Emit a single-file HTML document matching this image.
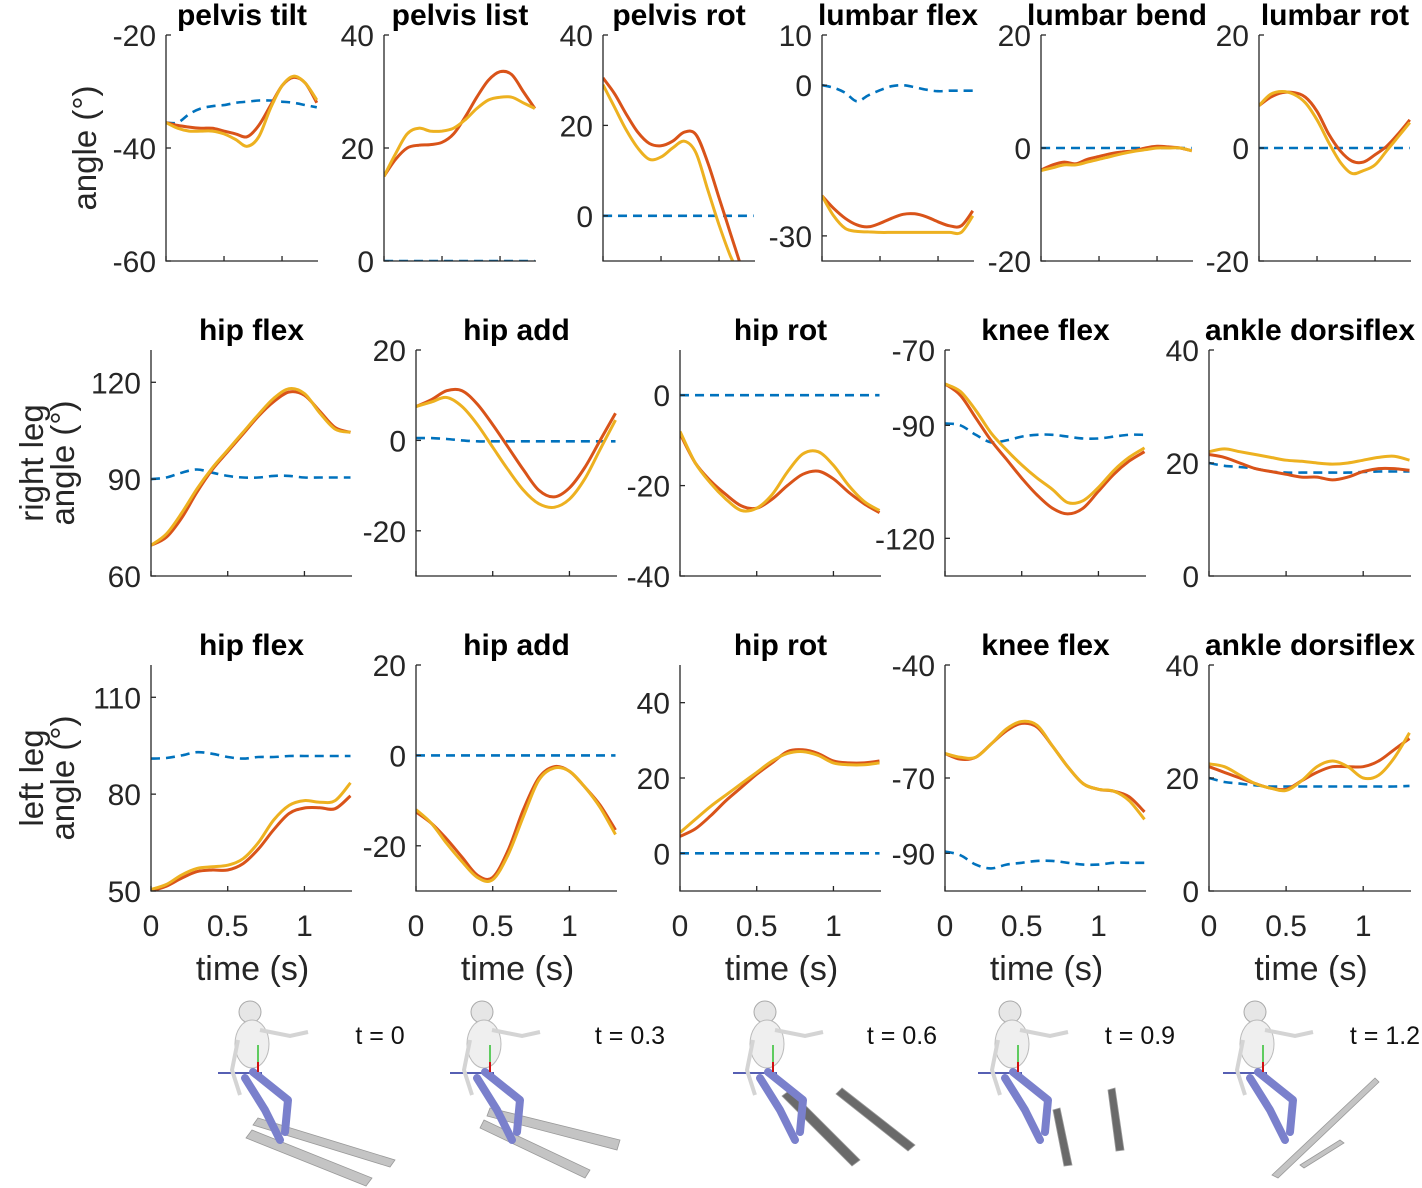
<!DOCTYPE html>
<html><head><meta charset="utf-8"><style>
body{margin:0;background:#fff}
svg{display:block;font-family:"Liberation Sans",Arial,sans-serif}
</style></head><body>
<svg id="fig" width="1422" height="1188" viewBox="0 0 1422 1188" xmlns="http://www.w3.org/2000/svg"></svg>
<script>
// ---- data ----
const time = [0,0.1,0.2,0.3,0.4,0.5,0.6,0.7,0.8,0.9,1.0,1.1,1.2,1.3];
const xTicks = [0,0.5,1];
const xTickLabels = ['0','0.5','1'];

const pelvisTiltRef = [-35.5,-35.5,-34,-33,-32.6,-32.4,-32,-31.8,-31.6,-31.6,-31.8,-32,-32.4,-32.8];
const pelvisTiltA = [-35.5,-36,-36.3,-36.5,-36.5,-37,-37.5,-38,-36,-32.5,-29,-27.5,-28.5,-32];
const pelvisTiltB = [-35.5,-36.5,-37,-37,-37,-37.5,-38.5,-39.7,-38,-33,-29,-27.3,-28.5,-31.5];

const pelvisListRef = [0,0,0,0,0,0,0,0,0,0,0,0,0,0];
const pelvisListA = [15,18,20,20.5,20.6,21,22.5,25.5,29,32,33.5,33,30,27];
const pelvisListB = [15,19,22.5,23.5,23,23,23.5,25,27,28.5,29,29,28,27];

const pelvisRotRef = [0,0,0,0,0,0,0,0,0,0,0,0,0,0];
const pelvisRotA = [30.5,27,22.5,18.5,16,15.5,16.5,18.5,18,12,4,-4,-12,-20];
const pelvisRotB = [29,24,19,15,12.5,13,15,16.5,14,6,-2,-9,-14,-20];

const lumbarFlexRef = [0,-0.5,-1.5,-3.2,-2,-1,-0.2,0,-0.4,-0.9,-1.2,-1.1,-1.1,-1.1];
const lumbarFlexA = [-22,-24.5,-26.5,-27.8,-28.2,-27.5,-26.5,-25.7,-25.6,-26.2,-27.2,-28,-28,-25];
const lumbarFlexB = [-22,-26,-28.5,-29.1,-29.2,-29.3,-29.3,-29.3,-29.3,-29.3,-29.3,-29.3,-29.3,-26];

const lumbarBendRef = [0,0,0,0,0,0,0,0,0,0,0,0,0,0];
const lumbarBendA = [-3.9,-3,-2.5,-2.8,-2,-1.5,-1,-0.7,-0.5,0,0.3,0.2,0,-0.5];
const lumbarBendB = [-4,-3.5,-3,-3,-2.5,-2,-1.5,-1,-0.6,-0.3,0,0,0,-0.5];

const lumbarRotRef = [0,0,0,0,0,0,0,0,0,0,0,0,0,0];
const lumbarRotA = [7.5,9,9.8,9.8,9,6.5,2.5,-0.5,-2.3,-2.5,-1.2,0.3,2.5,5];
const lumbarRotB = [7.5,9.5,10,9.5,8,5,1,-2.5,-4.5,-4,-3,-0.5,2,4.5];

const rHipFlexRef = [90,90.5,92,93,92,91,90.5,90.5,91,91,90.5,90.5,90.5,90.5];
const rHipFlexA = [69.5,72,78,86,93,98.5,104,109.5,114,117,116,111,106,104.5];
const rHipFlexB = [69.5,73,79.5,87,93.5,99,104.5,110,115,118,116.5,110.5,105.5,104.5];

const rHipAddRef = [0.5,0.5,0.3,0,-0.2,-0.2,-0.2,-0.2,-0.2,-0.2,-0.2,-0.2,-0.2,-0.2];
const rHipAddA = [7.5,9,11,11,8,3.5,-1.5,-6.5,-11,-12.5,-10.5,-6,0,6];
const rHipAddB = [7.5,8.5,9.5,7.5,3.5,-1.5,-6.5,-11,-14,-14.8,-13,-8.5,-2,4.5];

const rHipRotRef = [0,0,0,0,0,0,0,0,0,0,0,0,0,0];
const rHipRotA = [-8.5,-15,-19,-22,-24.5,-25,-23,-20,-17.5,-16.8,-18.5,-21.5,-24,-26];
const rHipRotB = [-8,-15,-19.5,-23,-25.5,-25,-22,-17,-13,-12.5,-15.5,-20,-23.5,-25.5];

const rKneeRef = [-89.5,-90,-92.5,-94.5,-94,-93,-92.5,-92.5,-93,-93.5,-93.5,-93,-92.5,-92.5];
const rKneeA = [-79,-82,-88,-94,-99,-104,-108.5,-112,-113.5,-112,-107.5,-103,-99.5,-97];
const rKneeB = [-79,-81,-86,-92,-96.5,-100.5,-104,-107,-110.5,-110,-106.5,-102,-98.5,-96];

const rAnkleRef = [20,19.5,19.3,19,18.5,18.3,18.3,18.3,18.3,18.3,18.4,18.5,18.5,18.5];
const rAnkleA = [21.5,21,20,19,18.5,18,17.5,17.5,17,17.5,18.5,19,19,18.7];
const rAnkleB = [22,22.5,22,21.5,21,20.5,20.3,20,19.8,20,20.5,21,21.2,20.5];

const lHipFlexRef = [91,91.2,92,93,92.5,91.5,91,91.5,91.5,91.8,91.8,91.8,91.8,91.8];
const lHipFlexA = [50,51.5,54,56,56.5,56.5,58.5,63,69,74,75.7,75.8,75.5,79.5];
const lHipFlexB = [50.5,52,55,57,57.5,58,60,65,72,76.5,78,77.5,78,83.5];

const lHipAddRef = [0,0,0,0,0,0,0,0,0,0,0,0,0,0];
const lHipAddA = [-12.5,-15,-18.5,-22.5,-26.5,-27,-21,-12,-5,-2.5,-3.5,-7,-11,-16.5];
const lHipAddB = [-12,-15,-19.5,-23.5,-27,-27.5,-22,-13.5,-5.5,-2.8,-3.5,-7,-11.5,-17.5];

const lHipRotRef = [0,0,0,0,0,0,0,0,0,0,0,0,0,0];
const lHipRotA = [4.5,6.5,10,14,17.5,21,24,27,27.5,26.5,24.5,24,24,24.5];
const lHipRotB = [5.5,9,12.5,15.5,18.5,21.5,24.5,26.5,27,26,24,23.5,23.5,24];

const lKneeRef = [-89.5,-90.5,-93,-94,-93,-92.5,-92,-92,-92.5,-93,-93,-92.5,-92.5,-92.5];
const lKneeA = [-63.5,-65,-64.5,-61,-57.5,-55.5,-56.5,-61.5,-67,-71.5,-73,-73.5,-75,-79];
const lKneeB = [-63.5,-64.5,-64.5,-61,-57,-55,-56,-61.5,-67,-71.5,-73,-73.5,-76,-81];

const lAnkleRef = [20,19.3,19,18.7,18.5,18.5,18.5,18.5,18.5,18.5,18.5,18.5,18.5,18.6];
const lAnkleA = [22,21,20,19,18.2,18,19.5,21,22,22,22,23,25,27];
const lAnkleB = [22.5,22,20.5,19,18.2,17.8,19.5,22,23,22,20,20.5,23.5,28];

// ---- layout ----
const NS='http://www.w3.org/2000/svg';
const svg=document.getElementById('fig');
function mk(tag,attrs,parent){const e=document.createElementNS(NS,tag);for(const k in attrs)e.setAttribute(k,attrs[k]);(parent||svg).appendChild(e);return e;}
const XMAX=1.31;
const C_REF='#0072BD',C_A='#D95319',C_B='#EDB120';

const panels=[
 {name:'pelvis-tilt',title:'pelvis tilt',x0:166,w:152,y0:35,h:226,ymin:-60,ymax:-20,yt:[-20,-40,-60],ref:pelvisTiltRef,a:pelvisTiltA,b:pelvisTiltB},
 {name:'pelvis-list',title:'pelvis list',x0:384,w:152,y0:35,h:226,ymin:0,ymax:40,yt:[40,20,0],ref:pelvisListRef,a:pelvisListA,b:pelvisListB},
 {name:'pelvis-rot',title:'pelvis rot',x0:603,w:152,y0:35,h:226,ymin:-10,ymax:40,yt:[40,20,0],ref:pelvisRotRef,a:pelvisRotA,b:pelvisRotB},
 {name:'lumbar-flex',title:'lumbar flex',x0:822,w:152,y0:35,h:226,ymin:-35,ymax:10,yt:[10,0,-30],ref:lumbarFlexRef,a:lumbarFlexA,b:lumbarFlexB},
 {name:'lumbar-bend',title:'lumbar bend',x0:1041,w:152,y0:35,h:226,ymin:-20,ymax:20,yt:[20,0,-20],ref:lumbarBendRef,a:lumbarBendA,b:lumbarBendB},
 {name:'lumbar-rot',title:'lumbar rot',x0:1259,w:152,y0:35,h:226,ymin:-20,ymax:20,yt:[20,0,-20],ref:lumbarRotRef,a:lumbarRotA,b:lumbarRotB},
 {name:'right-hip-flex',title:'hip flex',x0:151,w:201,y0:350,h:226,ymin:60,ymax:130,yt:[120,90,60],ref:rHipFlexRef,a:rHipFlexA,b:rHipFlexB},
 {name:'right-hip-add',title:'hip add',x0:416,w:201,y0:350,h:226,ymin:-30,ymax:20,yt:[20,0,-20],ref:rHipAddRef,a:rHipAddA,b:rHipAddB},
 {name:'right-hip-rot',title:'hip rot',x0:680,w:201,y0:350,h:226,ymin:-40,ymax:10,yt:[0,-20,-40],ref:rHipRotRef,a:rHipRotA,b:rHipRotB},
 {name:'right-knee-flex',title:'knee flex',x0:945,w:201,y0:350,h:226,ymin:-130,ymax:-70,yt:[-70,-90,-120],ref:rKneeRef,a:rKneeA,b:rKneeB},
 {name:'right-ankle',title:'ankle dorsiflex',x0:1209,w:202,y0:350,h:226,ymin:0,ymax:40,yt:[40,20,0],ref:rAnkleRef,a:rAnkleA,b:rAnkleB},
 {name:'left-hip-flex',title:'hip flex',x0:151,w:201,y0:665,h:226,ymin:50,ymax:120,yt:[110,80,50],ref:lHipFlexRef,a:lHipFlexA,b:lHipFlexB,xl:1},
 {name:'left-hip-add',title:'hip add',x0:416,w:201,y0:665,h:226,ymin:-30,ymax:20,yt:[20,0,-20],ref:lHipAddRef,a:lHipAddA,b:lHipAddB,xl:1},
 {name:'left-hip-rot',title:'hip rot',x0:680,w:201,y0:665,h:226,ymin:-10,ymax:50,yt:[40,20,0],ref:lHipRotRef,a:lHipRotA,b:lHipRotB,xl:1},
 {name:'left-knee-flex',title:'knee flex',x0:945,w:201,y0:665,h:226,ymin:-100,ymax:-40,yt:[-40,-70,-90],ref:lKneeRef,a:lKneeA,b:lKneeB,xl:1},
 {name:'left-ankle',title:'ankle dorsiflex',x0:1209,w:202,y0:665,h:226,ymin:0,ymax:40,yt:[40,20,0],ref:lAnkleRef,a:lAnkleA,b:lAnkleB,xl:1}
];

function smoothPath(pts){
  let d='M'+pts[0][0].toFixed(1)+','+pts[0][1].toFixed(1);
  for(let i=0;i<pts.length-1;i++){
    const p0=pts[Math.max(0,i-1)],p1=pts[i],p2=pts[i+1],p3=pts[Math.min(pts.length-1,i+2)];
    const c1=[p1[0]+(p2[0]-p0[0])/6,p1[1]+(p2[1]-p0[1])/6];
    const c2=[p2[0]-(p3[0]-p1[0])/6,p2[1]-(p3[1]-p1[1])/6];
    d+=' C'+c1[0].toFixed(1)+','+c1[1].toFixed(1)+' '+c2[0].toFixed(1)+','+c2[1].toFixed(1)+' '+p2[0].toFixed(1)+','+p2[1].toFixed(1);
  }
  return d;
}

const defs=mk('defs',{});
panels.forEach((p,idx)=>{
  const g=mk('g',{});
  
  
  const sx=t=>p.x0+t/XMAX*p.w;
  const sy=v=>p.y0+(p.ymax-v)/(p.ymax-p.ymin)*p.h;
  const cp=mk('clipPath',{id:'c'+idx},defs);
  mk('rect',{x:p.x0,y:p.y0,width:p.w,height:p.h},cp);
  const series=[[p.ref,C_REF,'reference'],[p.a,C_A,'series-a'],[p.b,C_B,'series-b']];
  const lg=mk('g',{'clip-path':'url(#c'+idx+')'},g);
  series.forEach(s=>{
    const pts=time.map((t,i)=>[sx(t),sy(s[0][i])]);
    const path=mk('path',{d:smoothPath(pts),fill:'none',stroke:s[1],'stroke-width':s[2]==='reference'?2.6:3,'stroke-dasharray':s[2]==='reference'?'9 6':'none','stroke-linejoin':'round'},lg);
    
    
  });
  const ax=mk('path',{d:`M${p.x0},${p.y0} V${p.y0+p.h} H${p.x0+p.w}`,fill:'none',stroke:'#262626','stroke-width':1.3},g);
  
  
  p.yt.forEach(v=>{
    const y=sy(v);
    mk('line',{x1:p.x0,x2:p.x0+5,y1:y,y2:y,stroke:'#262626','stroke-width':1.3},g);
    const tx=mk('text',{x:p.x0-10,y:y+11,'text-anchor':'end','font-size':30,fill:'#262626'},g);
    tx.textContent=String(v);
    
    
  });
  xTicks.forEach((t,i)=>{
    const x=sx(t);
    mk('line',{x1:x,x2:x,y1:p.y0+p.h,y2:p.y0+p.h-5,stroke:'#262626','stroke-width':1.3},g);
    if(p.xl){
      const tx=mk('text',{x:x,y:p.y0+p.h+45,'text-anchor':'middle','font-size':30,fill:'#262626'},g);
      tx.textContent=xTickLabels[i];
      
      
    }
  });
  if(p.xl){
    const xt=mk('text',{x:p.x0+p.w*0.5+1,y:p.y0+p.h+89,'text-anchor':'middle','font-size':34,fill:'#262626'},g);
    xt.textContent='time (s)';
    
    
  }
  const ti=mk('text',{x:p.x0+p.w/2,y:p.y0-10,'text-anchor':'middle','font-size':30,'font-weight':'bold',fill:'#000'},g);
  ti.textContent=p.title;
  
  
});

function ylab(lines,cx,cy,name){
  const t=mk('text',{transform:`translate(${cx},${cy}) rotate(-90)`,'text-anchor':'middle','font-size':33,fill:'#262626'});
  
  
  lines.forEach((l,i)=>{const ts=mk('tspan',{x:0,dy:i===0?0:31},t);ts.textContent=l;});
}
ylab(['angle (°)'],96,148,'pelvis-lumbar-y-axis-title');
ylab(['right leg','angle (°)'],43,463,'right-leg-y-axis-title');
ylab(['left leg','angle (°)'],43,778,'left-leg-y-axis-title');

// skier snapshots
const snapLabels=['t = 0','t = 0.3','t = 0.6','t = 0.9','t = 1.2'];
const snapX=[250,482,765,1010,1255];
const labelX=[380,630,902,1140,1385];
const skis=[
 [[258,1118,395,1160,390,1167,253,1125],[252,1130,372,1178,366,1186,246,1138]],
 [[490,1108,620,1140,617,1150,487,1116],[484,1120,590,1170,585,1178,480,1128]],
 [[790,1090,860,1160,852,1166,782,1096],[842,1088,915,1145,908,1151,836,1094]],
 [[1060,1108,1072,1165,1064,1166,1053,1110],[1115,1088,1124,1150,1116,1151,1108,1090]],
 [[1272,1175,1375,1078,1379,1082,1278,1178],[1300,1165,1340,1140,1344,1143,1304,1168]]
];
snapX.forEach((sx,i)=>{
  const g=mk('g',{});
  
  
  skis[i].forEach(s=>{
    mk('polygon',{points:s.join(' '),fill:i===2||i===3?'#6a6a6a':'#c4c4c4',stroke:'#999','stroke-width':0.8},g);
  });
  const o=sx;
  mk('line',{x1:o-32,y1:1073,x2:o+12,y2:1073,stroke:'#1f2a9a','stroke-width':1.5},g);
  mk('circle',{cx:o,cy:1012,r:11,fill:'#e6e6e6',stroke:'#aaa'},g);
  mk('ellipse',{cx:o+2,cy:1044,rx:17,ry:24,fill:'#efefef',stroke:'#bbb','stroke-width':1},g);
  mk('path',{d:`M${o+10},1030 L${o+40},1036 L${o+58},1032`,fill:'none',stroke:'#d4d4d4','stroke-width':4},g);
  mk('path',{d:`M${o-12},1040 L${o-18},1070 L${o-10},1095`,fill:'none',stroke:'#d4d4d4','stroke-width':4},g);
  mk('path',{d:`M${o+3},1072 L${o+38},1100 L${o+35},1132 M${o-5},1078 L${o+15},1110 L${o+30},1140`,fill:'none',stroke:'#7a80cc','stroke-width':8,'stroke-linecap':'round','stroke-linejoin':'round'},g);
  mk('line',{x1:o+8,y1:1045,x2:o+8,y2:1072,stroke:'#2fbf2f','stroke-width':1.5},g);
  mk('line',{x1:o+8,y1:1072,x2:o+8,y2:1062,stroke:'#d01010','stroke-width':2},g);
  const t=mk('text',{x:labelX[i],y:1044,'text-anchor':'middle','font-size':25,fill:'#111'},g);
  t.textContent=snapLabels[i];
});
</script>
</body></html>
